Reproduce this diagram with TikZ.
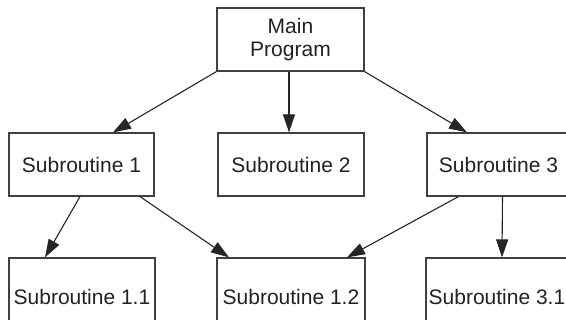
\documentclass[tikz,border=0pt]{standalone}
\usepackage{fontspec}
\setmainfont{Liberation Sans}
\usetikzlibrary{arrows.meta}
\definecolor{boxline}{HTML}{404040}
\definecolor{txt}{HTML}{222222}
\begin{document}
\begin{tikzpicture}[x=1pt,y=-1pt,
  box/.style={draw=boxline,line width=1.2pt,fill=white,rectangle,inner sep=0pt,
    text=txt,font=\fontsize{21}{23}\selectfont,align=center},
  conn/.style={draw=black!85,line width=1.1pt,-{Triangle[length=18pt,width=12pt]}}]
\useasboundingbox (0,0) rectangle (566,320);
\fill[white] (0,0) rectangle (566,320);
\begin{scope}
\clip (0,0) rectangle (566,320);
\node[box,minimum width=147pt,minimum height=63pt] (main) at (290.5,39.5) {Main\\Program};
\node[box,minimum width=145pt,minimum height=63pt] (s1) at (81.5,164.5) {Subroutine 1};
\node[box,minimum width=146pt,minimum height=63pt] (s2) at (291,164.5) {Subroutine 2};
\node[box,minimum width=143pt,minimum height=63pt] (s3) at (498.5,164.5) {Subroutine 3};
\node[box,minimum width=146pt,minimum height=78pt] (s11) at (82,297) {Subroutine 1.1};
\node[box,minimum width=148pt,minimum height=78pt] (s12) at (291,297) {Subroutine 1.2};
\node[box,minimum width=142pt,minimum height=78pt] (s31) at (497,297) {Subroutine 3.1};
\draw[conn] (main.south west) -- ([xshift=31.5pt]s1.north);
\draw[conn] ([xshift=-1.5pt]main.south) -- ([xshift=-2pt]s2.north);
\draw[conn] (main.south east) -- ([xshift=-31.5pt]s3.north);
\draw[conn] ([xshift=-1.5pt]s1.south) -- ([xshift=-37pt]s11.north);
\draw[conn] ([xshift=58.5pt]s1.south) -- ([xshift=-62pt]s12.north);
\draw[conn] ([xshift=-40pt]s3.south) -- ([xshift=56pt]s12.north);
\draw[conn] ([xshift=4pt]s3.south) -- ([xshift=5pt]s31.north);
\end{scope}
\end{tikzpicture}
\end{document}
